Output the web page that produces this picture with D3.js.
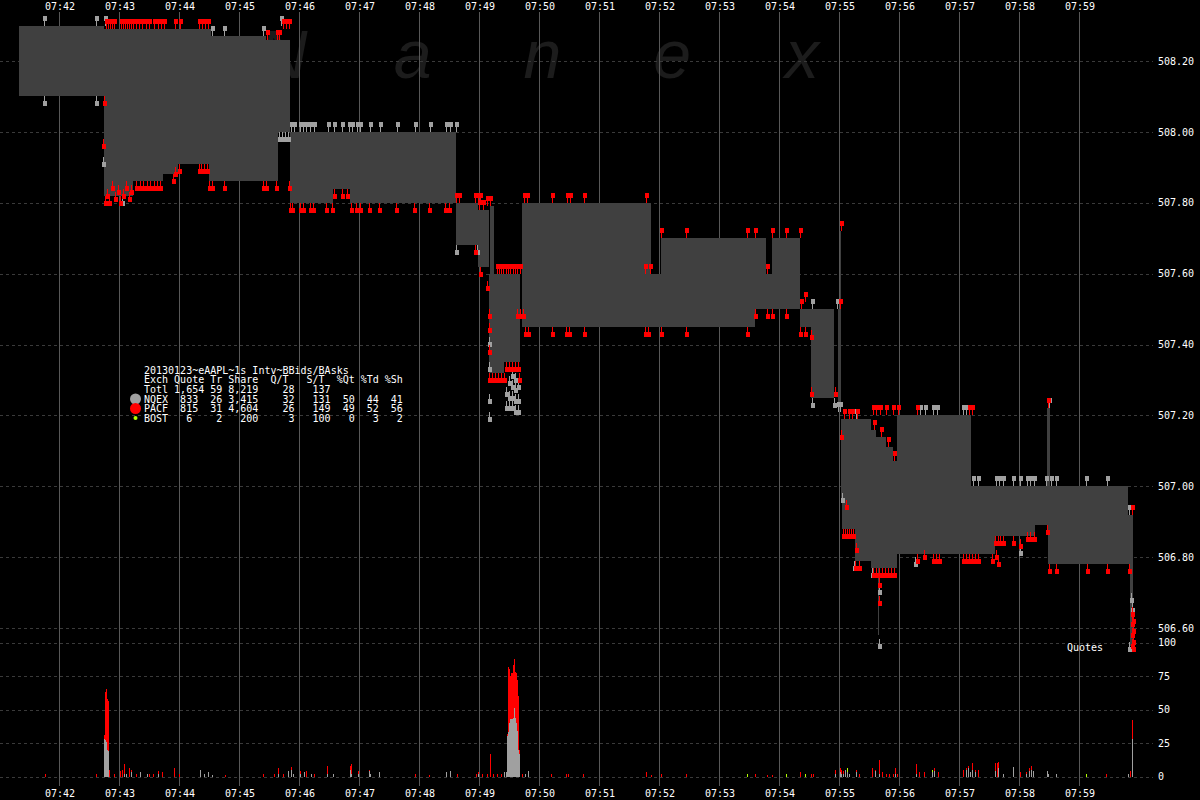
<!DOCTYPE html>
<html><head><meta charset="utf-8">
<script src="https://cdn.jsdelivr.net/npm/d3@7"></script>
<style>html,body{margin:0;padding:0;background:#000;}svg{display:block;}</style>
</head><body>
<svg id="chart" width="1200" height="800"></svg>
<script>
// ---------------- DATA ----------------
const minuteTicks = ["07:42","07:43","07:44","07:45","07:46","07:47","07:48","07:49","07:50","07:51","07:52","07:53","07:54","07:55","07:56","07:57","07:58","07:59"];
const priceTicks = [506.60, 506.80, 507.00, 507.20, 507.40, 507.60, 507.80, 508.00, 508.20];
const volumeTicks = [0, 25, 50, 75, 100];

// NBBO band (best bid / best ask) segments
const segStart = ["07:41:20","07:42:45","07:43:14","07:43:44","07:43:59","07:44:30","07:44:32","07:45:27","07:45:39","07:45:51","07:46:34","07:46:51","07:48:37","07:48:59","07:49:10","07:49:25","07:49:43","07:51:52","07:52:02","07:53:36","07:53:47","07:53:53","07:54:21","07:54:32","07:54:59","07:55:02","07:55:03","07:55:16","07:55:32","07:55:37","07:55:47","07:55:54","07:55:58","07:57:12","07:57:36","07:58:16","07:58:29","07:59:49","07:59:51",
  "07:55:01","07:55:39","07:58:28","07:49:11"];
const segEnd   = ["07:42:45","07:43:14","07:43:44","07:43:59","07:44:30","07:44:32","07:45:27","07:45:39","07:45:51","07:46:34","07:46:51","07:48:37","07:48:59","07:49:10","07:49:25","07:49:41","07:51:52","07:52:02","07:53:36","07:53:47","07:53:53","07:54:21","07:54:32","07:54:55","07:55:02","07:55:03","07:55:16","07:55:32","07:55:37","07:55:47","07:55:54","07:55:58","07:57:12","07:57:36","07:58:16","07:58:29","07:59:49","07:59:51","07:59:54",
  "07:55:02","07:55:40","07:58:31","07:49:15"];
const segBid = [508.10,507.82,507.86,507.88,507.91,507.86,507.86,507.86,508.00,507.80,507.84,507.80,507.68,507.62,507.32,507.35,507.45,507.45,507.45,507.50,507.50,507.50,507.45,507.25,507.21,506.96,506.88,506.79,506.77,506.77,506.77,506.77,506.81,506.81,506.86,506.89,506.78,506.78,506.55,
  507.21,506.58,506.89,507.32];
const segAsk = [508.30,508.29,508.29,508.29,508.29,508.29,508.27,508.26,508.26,508.00,508.00,508.00,507.80,507.78,507.60,507.60,507.80,507.60,507.70,507.70,507.60,507.70,507.50,507.50,507.50,507.19,507.19,507.19,507.16,507.14,507.11,507.07,507.20,507.00,507.00,507.00,507.00,506.92,506.92,
  507.72,507.14,507.22,507.79];

// Quotes [time, price]
const pacfAsks = [
 ["07:42:47",508.29],["07:42:49",508.29],["07:42:51",508.29],["07:42:53",508.29],["07:42:55",508.29],
 ["07:43:02",508.29],["07:43:04",508.29],["07:43:06",508.29],["07:43:08",508.29],["07:43:10",508.29],["07:43:12",508.29],["07:43:14",508.29],
 ["07:43:17",508.29],["07:43:20",508.29],["07:43:23",508.29],["07:43:27",508.29],["07:43:30",508.29],["07:43:35",508.29],["07:43:39",508.29],
 ["07:43:42",508.29],["07:43:45",508.29],["07:43:56",508.29],["07:44:01",508.29],["07:44:20",508.29],["07:44:23",508.29],["07:44:26",508.29],["07:44:29",508.29],
 ["07:45:28",508.26],["07:45:38",508.26],["07:45:40",508.26],["07:45:44",508.29],["07:45:47",508.29],["07:45:50",508.29],
 ["07:48:37",507.80],["07:48:40",507.80],["07:48:56",507.80],["07:48:59",507.80],["07:49:01",507.80],["07:49:00",507.78],["07:49:04",507.78],["07:49:08",507.79],["07:49:11",507.79],
 ["07:49:18",507.60],["07:49:20",507.60],["07:49:22",507.60],["07:49:24",507.60],["07:49:27",507.60],["07:49:29",507.60],["07:49:31",507.60],["07:49:34",507.60],["07:49:36",507.60],["07:49:38",507.60],["07:49:41",507.60],
 ["07:49:45",507.80],["07:49:48",507.80],["07:50:13",507.80],["07:50:28",507.80],["07:50:31",507.80],["07:50:45",507.80],["07:51:47",507.80],
 ["07:51:46",507.60],["07:51:51",507.60],
 ["07:52:02",507.70],["07:52:27",507.70],["07:53:28",507.70],["07:53:36",507.70],["07:53:53",507.70],["07:54:07",507.70],["07:54:21",507.70],
 ["07:53:48",507.60],
 ["07:54:22",507.50],["07:54:26",507.52],["07:55:01",507.50],["07:55:02",507.72],
 ["07:55:05",507.19],["07:55:10",507.19],["07:55:13",507.19],["07:55:18",507.19],
 ["07:55:34",507.20],["07:55:37",507.20],["07:55:41",507.20],["07:55:47",507.20],["07:55:54",507.20],["07:55:59",507.20],
 ["07:55:35",507.16],["07:55:42",507.14],["07:55:49",507.11],["07:55:55",507.07],
 ["07:56:18",507.20],["07:57:10",507.20],["07:57:13",507.20],
 ["07:58:29",507.22],["07:59:53",506.92]
];
const nqexAsks = [
 ["07:41:45",508.30],["07:42:37",508.30],["07:42:46",508.30],["07:44:33",508.27],["07:44:45",508.27],["07:45:24",508.27],["07:45:42",508.30],
 ["07:45:52",508.00],["07:45:55",508.00],["07:46:01",508.00],["07:46:04",508.00],["07:46:07",508.00],["07:46:11",508.00],["07:46:15",508.00],
 ["07:46:29",508.00],["07:46:35",508.00],["07:46:43",508.00],["07:46:50",508.00],["07:46:53",508.00],["07:46:58",508.00],["07:47:01",508.00],
 ["07:47:11",508.00],["07:47:21",508.00],["07:47:38",508.00],["07:47:56",508.00],["07:48:11",508.00],["07:48:27",508.00],["07:48:31",508.00],["07:48:37",508.00],
 ["07:54:33",507.50],["07:54:58",507.50],
 ["07:54:59",507.21],["07:55:01",507.21],["07:55:17",507.19],["07:56:21",507.20],["07:56:26",507.20],["07:56:34",507.20],["07:56:38",507.20],["07:57:04",507.20],["07:57:07",507.20],
 ["07:57:14",507.00],["07:57:19",507.00],["07:57:37",507.00],["07:57:40",507.00],["07:57:44",507.00],["07:57:54",507.00],["07:58:01",507.00],
 ["07:58:08",507.00],["07:58:11",507.00],["07:58:15",507.00],["07:58:27",507.00],["07:58:32",507.00],["07:58:37",507.00],["07:59:07",507.00],["07:59:28",507.00],
 ["07:58:30",507.22],["07:59:50",506.92]
];
const nqexBids = [
 ["07:41:45",508.10],["07:42:37",508.10],["07:42:44",507.93],["07:43:03",507.82],
 ["07:45:40",508.00],["07:45:43",508.00],["07:45:46",508.00],["07:45:49",508.00],
 ["07:48:37",507.68],["07:48:58",507.68],
 ["07:49:10",507.42],["07:49:10",507.35],["07:49:10",507.26],["07:49:10",507.21],
 ["07:49:27",507.28],["07:49:27",507.24],["07:49:30",507.31],["07:49:30",507.27],["07:49:30",507.24],
 ["07:49:33",507.33],["07:49:33",507.30],["07:49:33",507.27],["07:49:33",507.24],
 ["07:49:36",507.32],["07:49:36",507.29],["07:49:36",507.26],["07:49:36",507.23],
 ["07:49:39",507.30],["07:49:39",507.26],["07:49:39",507.23],
 ["07:54:33",507.25],["07:54:55",507.25],["07:55:03",506.98],["07:55:15",506.79],["07:55:33",506.77],["07:55:40",506.72],["07:55:40",506.57],
 ["07:56:16",506.80],["07:58:01",506.83],["07:59:50",506.56],["07:59:52",506.70],["07:59:53",506.67]
];
const pacfBids = [
 ["07:42:45",508.10],["07:42:44",507.98],
 ["07:42:46",507.82],["07:42:48",507.84],["07:42:50",507.82],["07:42:53",507.86],["07:42:56",507.83],["07:42:59",507.85],
 ["07:43:01",507.82],["07:43:04",507.84],["07:43:07",507.86],["07:43:10",507.83],["07:43:12",507.85],
 ["07:43:17",507.86],["07:43:21",507.86],["07:43:24",507.86],["07:43:28",507.86],["07:43:31",507.86],["07:43:35",507.86],["07:43:38",507.86],["07:43:41",507.86],
 ["07:43:54",507.88],["07:43:56",507.90],
 ["07:44:00",507.91],["07:44:20",507.91],["07:44:22",507.91],["07:44:25",507.91],["07:44:28",507.91],
 ["07:44:30",507.86],["07:44:33",507.86],["07:44:45",507.86],["07:45:24",507.86],["07:45:27",507.86],["07:45:37",507.86],["07:45:50",507.86],
 ["07:45:51",507.80],["07:45:53",507.80],["07:46:01",507.80],["07:46:04",507.80],["07:46:11",507.80],["07:46:14",507.80],["07:46:27",507.80],["07:46:33",507.80],
 ["07:46:35",507.84],["07:46:43",507.84],["07:46:48",507.84],
 ["07:46:52",507.80],["07:46:57",507.80],["07:47:01",507.80],["07:47:10",507.80],["07:47:20",507.80],["07:47:37",507.80],["07:47:55",507.80],
 ["07:48:10",507.80],["07:48:26",507.80],["07:48:30",507.80],
 ["07:48:56",507.68],["07:49:01",507.62],["07:49:08",507.58],
 ["07:49:10",507.50],["07:49:10",507.46],["07:49:10",507.40],
 ["07:49:10",507.32],["07:49:13",507.32],["07:49:16",507.32],["07:49:19",507.32],["07:49:22",507.32],["07:49:25",507.32],
 ["07:49:27",507.35],["07:49:30",507.35],["07:49:33",507.35],["07:49:36",507.35],["07:49:39",507.35],["07:49:40",507.32],
 ["07:49:38",507.50],["07:49:41",507.50],["07:49:44",507.50],
 ["07:49:46",507.45],["07:49:49",507.45],["07:50:13",507.45],["07:50:27",507.45],["07:50:30",507.45],["07:50:45",507.45],
 ["07:51:46",507.45],["07:51:49",507.45],["07:52:02",507.45],["07:52:27",507.45],["07:53:28",507.45],
 ["07:53:36",507.50],["07:53:48",507.50],["07:53:53",507.50],["07:54:07",507.50],
 ["07:54:21",507.45],["07:54:26",507.45],["07:54:32",507.44],
 ["07:54:32",507.28],["07:54:56",507.28],
 ["07:55:02",507.16],["07:55:07",506.96],
 ["07:55:04",506.88],["07:55:06",506.88],["07:55:08",506.88],["07:55:10",506.88],["07:55:12",506.88],["07:55:14",506.88],
 ["07:55:17",506.84],["07:55:16",506.79],["07:55:20",506.79],
 ["07:55:34",506.77],["07:55:37",506.77],["07:55:40",506.77],["07:55:43",506.77],["07:55:46",506.77],["07:55:49",506.77],["07:55:52",506.77],["07:55:55",506.77],
 ["07:55:40",506.74],["07:55:40",506.69],
 ["07:56:18",506.81],["07:56:25",506.82],["07:56:34",506.81],["07:56:37",506.81],["07:56:40",506.81],
 ["07:57:04",506.81],["07:57:07",506.81],["07:57:10",506.81],["07:57:13",506.81],["07:57:16",506.81],["07:57:19",506.81],["07:57:33",506.81],
 ["07:57:36",506.86],["07:57:39",506.86],["07:57:41",506.86],["07:57:44",506.86],["07:57:54",506.86],["07:58:01",506.85],
 ["07:58:08",506.87],["07:58:11",506.87],["07:58:15",506.87],["07:57:37",506.82],["07:57:39",506.80],
 ["07:58:28",506.89],
 ["07:58:30",506.78],["07:58:37",506.78],["07:59:08",506.78],["07:59:28",506.78],["07:59:50",506.78],
 ["07:59:53",506.66],["07:59:53",506.63],["07:59:53",506.60],["07:59:53",506.57],["07:59:54",506.64],["07:59:54",506.61],["07:59:54",506.58],["07:59:54",506.56]
];

// Quote counts per second
const volTimes = ["07:41:46","07:42:37","07:42:45","07:42:46","07:42:47","07:42:48","07:42:49","07:42:50","07:42:55",
 "07:43:01","07:43:03","07:43:05","07:43:07","07:43:10","07:43:12","07:43:17","07:43:21","07:43:28","07:43:30","07:43:34","07:43:39","07:43:43","07:43:55",
 "07:44:00","07:44:21","07:44:25","07:44:29","07:44:33","07:44:46","07:45:24","07:45:35","07:45:39","07:45:44","07:45:49","07:45:52","07:45:54",
 "07:46:01","07:46:05","07:46:07","07:46:12","07:46:15","07:46:28","07:46:34","07:46:51","07:46:52","07:46:59","07:47:10","07:47:11","07:47:20",
 "07:47:56","07:48:10","07:48:27","07:48:31","07:48:38","07:48:57","07:48:59","07:49:03","07:49:08","07:49:11","07:49:14","07:49:18","07:49:22","07:49:25",
 "07:49:27","07:49:28","07:49:29","07:49:30","07:49:31","07:49:32","07:49:33","07:49:34","07:49:35","07:49:36","07:49:37","07:49:38","07:49:39","07:49:40",
 "07:49:43","07:49:46","07:49:49","07:50:12","07:50:27","07:50:29","07:50:44",
 "07:51:47","07:51:52","07:52:02","07:52:27","07:53:28","07:53:36","07:53:48","07:53:53","07:54:07","07:54:21","07:54:26","07:54:32","07:54:34",
 "07:54:56","07:55:01","07:55:02","07:55:04","07:55:06","07:55:08","07:55:10","07:55:17","07:55:20","07:55:33","07:55:36","07:55:40","07:55:43",
 "07:55:47","07:55:50","07:55:54","07:55:56","07:55:58","07:56:17","07:56:20","07:56:25","07:56:33","07:56:35","07:56:39",
 "07:57:04","07:57:07","07:57:09","07:57:11","07:57:13","07:57:16","07:57:19","07:57:36","07:57:38","07:57:39","07:57:44","07:57:54",
 "07:58:01","07:58:07","07:58:10","07:58:12","07:58:14","07:58:28","07:58:29","07:58:37","07:59:07","07:59:27","07:59:49","07:59:51","07:59:53"];
const volNQEX = [0,0,28,27,26,20,19,0,0,
 0,0,2,2,0,3,0,3,2,0,0,2,0,0,
 0,5,2,3,1,0,0,0,2,0,4,5,2,
 2,3,0,2,0,2,2,5,2,2,4,2,3,
 0,0,3,4,0,0,2,0,0,0,0,0,0,3,
 3,30,33,40,43,43,43,44,51,44,40,34,20,17,
 0,2,4,0,0,0,0,
 0,0,0,0,0,0,0,0,0,0,0,0,0,
 2,3,2,2,5,3,2,3,0,0,4,2,0,
 0,0,0,2,0,2,0,0,3,4,0,
 0,5,6,3,5,3,0,4,0,6,2,7,
 0,2,4,5,4,4,2,2,0,0,2,0,28];
const volPACF = [2,2,3,36,39,38,37,5,2,
 4,5,7,0,6,2,2,0,0,2,2,2,3,6,
 2,0,0,0,0,1,2,2,4,2,0,2,0,
 2,0,4,0,2,6,0,3,7,2,1,0,0,
 2,1,0,0,2,2,1,2,2,17,2,2,2,0,
 0,2,49,40,32,34,34,39,37,34,37,38,40,3,
 2,0,0,2,2,2,2,
 3,1,2,2,0,2,1,1,0,3,0,2,2,
 3,3,3,2,0,0,0,2,2,6,1,10,3,
 2,2,2,4,2,7,3,3,0,2,3,
 5,1,2,0,5,2,5,6,10,5,0,0,
 3,1,2,3,0,0,0,0,0,2,0,4,14];
const volBOST = [0,0,0,0,0,0,0,0,0,
 0,0,0,0,0,0,0,0,0,0,0,0,0,0,
 0,0,0,0,0,0,0,0,0,0,0,0,0,
 0,0,0,0,0,0,0,0,0,0,0,0,0,
 0,0,0,0,0,0,0,0,0,0,0,0,0,0,
 0,0,0,0,0,0,0,0,0,0,0,0,0,0,
 0,0,0,0,0,0,0,
 0,0,0,0,2,0,0,0,2,0,2,0,0,
 0,0,0,0,0,3,0,0,0,0,0,0,0,
 0,0,0,0,0,0,0,0,2,0,0,
 0,0,0,0,0,0,0,0,0,0,0,0,
 0,0,0,0,0,0,0,0,2,0,0,0,0];

const legendTitle = "20130123~eAAPL~1s Intv~BBids/BAsks";
const legendLines = [
 "Exch Quote Tr Share  Q/T   S/T  %Qt %Td %Sh",
 "Totl 1,654 59 8,219    28   137",
 "NQEX  833  26 3,415    32   131  50  44  41",
 "PACF  815  31 4,604    26   149  49  52  56",
 "BOST   6    2   200     3   100   0   3   2"
];
const watermark = ["N","a","n","e","x"];

// ---------------- CHART ----------------
const svg = d3.select("#chart");
svg.append("rect").attr("width",1200).attr("height",800).attr("fill","#000");
const parse = d3.timeParse("%H:%M:%S");
const pm = d3.timeParse("%H:%M");
const x = d3.scaleTime().domain([parse("07:42:00"), parse("07:59:00")]).range([59.5, 1079.5]);
const px = t => Math.round(x(t) - 0.5 + 1e-6);
const yP = d3.scaleLinear().domain([506.60, 508.20]).range([628, 61]);
const yV = d3.scaleLinear().domain([0, 100]).range([776.5, 642.5]);
const FONT = "'DejaVu Sans Mono', monospace";
const RED = "#ff0000", GRAY = "#a0a0a0", GREEN = "#b4ff00", BAND = "#404040";

// watermark
const wmX = d3.scalePoint().domain(d3.range(watermark.length)).range([283, 802]);
svg.append("g").selectAll("text").data(watermark).join("text")
  .attr("x",(d,i)=>wmX(i)).attr("y",78).attr("text-anchor","middle")
  .attr("font-family","'Liberation Sans', Arial, sans-serif").attr("font-style","italic")
  .attr("font-size",68).attr("fill","#1c1c1c").text(d=>d);

// horizontal dashed grid
const grid = svg.append("g");
grid.selectAll("line.p").data(priceTicks).join("line")
  .attr("x1",0).attr("x2",1153).attr("y1",d=>Math.round(yP(d))+0.5).attr("y2",d=>Math.round(yP(d))+0.5)
  .attr("stroke","#3a3a3a").attr("stroke-dasharray","3,3");
grid.selectAll("line.v").data(volumeTicks).join("line")
  .attr("x1",0).attr("x2",1153).attr("y1",d=>Math.round(yV(d))+0.5).attr("y2",d=>Math.round(yV(d))+0.5)
  .attr("stroke","#3a3a3a").attr("stroke-dasharray","3,3");
// vertical minute lines
grid.selectAll("line.m").data(minuteTicks.map(pm)).join("line")
  .attr("x1",d=>px(d)+0.5).attr("x2",d=>px(d)+0.5).attr("y1",12).attr("y2",786)
  .attr("stroke","#585858");

// NBBO band
const segs = segStart.map((s,i)=>({s:parse(s), e:parse(segEnd[i]), bid:segBid[i], ask:segAsk[i]}));
svg.append("g").attr("shape-rendering","crispEdges").selectAll("rect").data(segs).join("rect")
  .attr("x",d=>px(d.s))
  .attr("width",d=>Math.max(1,px(d.e)-px(d.s)))
  .attr("y",d=>Math.round(yP(d.ask)))
  .attr("height",d=>Math.round(yP(d.bid))-Math.round(yP(d.ask)))
  .attr("fill",BAND);

// quote markers
function markers(data, side, color){
  const g = svg.append("g").attr("fill",color).attr("shape-rendering","crispEdges");
  const sgn = side==="ask" ? -1 : 1;
  g.selectAll("rect.stem").data(data).join("rect").attr("class","stem")
    .attr("x",d=>px(parse(d[0]))).attr("width",1)
    .attr("y",d=>sgn<0 ? Math.round(yP(d[1]))-5 : Math.round(yP(d[1])))
    .attr("height",5);
  g.selectAll("rect.head").data(data).join("rect").attr("class","head")
    .attr("x",d=>px(parse(d[0]))-1).attr("width",4)
    .attr("y",d=>sgn<0 ? Math.round(yP(d[1]))-10 : Math.round(yP(d[1]))+5)
    .attr("height",5);
}
markers(nqexAsks,"ask",GRAY);
markers(nqexBids,"bid",GRAY);
markers(pacfAsks,"ask",RED);
markers(pacfBids,"bid",RED);

// volume bars (stacked)
const vol = volTimes.map((t,i)=>({t:parse(t), n:volNQEX[i], p:volPACF[i], b:volBOST[i]}));
const vg = svg.append("g").attr("shape-rendering","crispEdges");
const layers = [["n",GRAY,d=>0],["p",RED,d=>d.n],["b",GREEN,d=>d.n+d.p]];
layers.forEach(([k,c,base])=>{
  vg.append("g").selectAll("rect").data(vol.filter(d=>d[k]>0)).join("rect")
    .attr("x",d=>px(d.t)).attr("width",1)
    .attr("y",d=>yV(base(d)+d[k])).attr("height",d=>yV(base(d))-yV(base(d)+d[k]))
    .attr("fill",c);
});

// axes
function styleAxis(g){
  g.select(".domain").remove();
  g.selectAll("text").attr("fill","#fff").attr("font-family",FONT).attr("font-size",10);
}
const tfmt = d3.timeFormat("%H:%M");
svg.append("g").attr("transform","translate(0,9.5)")
  .call(d3.axisTop(x).tickValues(minuteTicks.map(pm)).tickFormat(tfmt).tickSize(0).tickPadding(0)).call(styleAxis);
svg.append("g").attr("transform","translate(0,790)")
  .call(d3.axisBottom(x).tickValues(minuteTicks.map(pm)).tickFormat(tfmt).tickSize(0).tickPadding(0)).call(styleAxis);
svg.append("g").attr("transform","translate(1158,0)")
  .call(d3.axisRight(yP).tickValues(priceTicks).tickFormat(d3.format(".2f")).tickSize(0).tickPadding(0)).call(styleAxis);
svg.append("g").attr("transform","translate(1158,0)")
  .call(d3.axisRight(yV).tickValues(volumeTicks).tickFormat(d3.format("d")).tickSize(0).tickPadding(0)).call(styleAxis);

svg.append("text").attr("x",1067).attr("y",651).attr("fill","#fff")
  .attr("font-family",FONT).attr("font-size",10).text("Quotes");

// legend (monospace columns, spaces kept as no-break spaces)
const lg = svg.append("g").attr("font-family",FONT).attr("font-size",10).attr("fill","#fff");
const lines = [legendTitle].concat(legendLines);
lg.selectAll("text").data(lines).join("text")
  .attr("x",144).attr("y",(d,i)=>373.5+i*9.7).text(d=>d.replace(/ /g,"\u00A0"));
svg.append("circle").attr("cx",135.5).attr("cy",399).attr("r",5.5).attr("fill",GRAY);
svg.append("circle").attr("cx",135.5).attr("cy",408.5).attr("r",5.5).attr("fill",RED);
svg.append("circle").attr("cx",135.5).attr("cy",418).attr("r",2).attr("fill",GREEN);
</script>
</body></html>
